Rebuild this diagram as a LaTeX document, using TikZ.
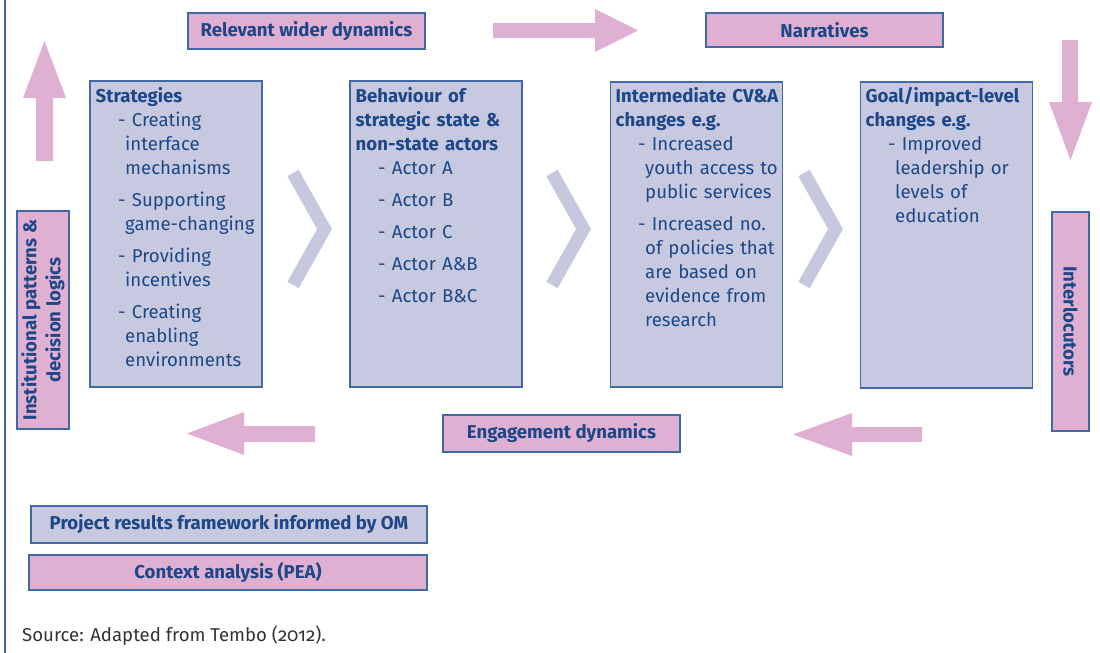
\documentclass[tikz,border=0pt]{standalone}
\usepackage{fontspec}
\setmainfont{Fira Sans}
\newfontfamily\srcfont[Numbers=OldStyle]{Fira Sans}
\definecolor{pinkc}{HTML}{DFB0D2}
\definecolor{bluec}{HTML}{C6C9DF}
\definecolor{chevc}{HTML}{C6C8DE}
\definecolor{bordc}{HTML}{4169A5}
\definecolor{txtc}{HTML}{1E4787}
\newcommand\fs{\fontsize{18.6}{24}\selectfont}
\newcommand\itm[1]{\par\hangindent=29.5pt\hangafter=1\noindent\hspace*{22.5pt}-\space#1}
\newcommand\itmg[1]{\par\vspace{8pt}\itm{#1}}
\begin{document}
\begin{tikzpicture}[x=1pt,y=-1pt,
  pinkbox/.style={draw=bordc, fill=pinkc, line width=1.3pt, inner sep=0pt, text=txtc, font=\fs\bfseries},
  bluebox/.style={draw=bordc, fill=bluec, line width=1.3pt, inner sep=0pt, text=txtc, font=\fs\bfseries},
  bigbox/.style={bluebox, minimum width=172pt, minimum height=306pt},
  txt/.style={text=txtc, font=\fs, inner sep=0pt, anchor=north west, text width=170pt,
     execute at begin node={\parindent=0pt\parskip=0pt}},
  pinkarrow/.style={fill=pinkc},
  chev/.style={draw=chevc, line width=13pt, line join=miter}]
\useasboundingbox (0,0) rectangle (1100,653);
\draw[bordc, line width=1.5pt] (5,0) -- (5,653);

% top labels
\node[pinkbox, minimum width=237pt, minimum height=36pt] (rwd) at (306.5,31) {Relevant wider dynamics};
\node[pinkbox, minimum width=237pt, minimum height=34pt] (narr) at (824.5,30) {Narratives};

% big boxes
\node[bigbox] (strat) at (176,234) {};
\node[bigbox] (behav) at (436,234) {};
\node[bigbox, minimum height=305pt] (inter) at (696.5,234.5) {};
\node[bigbox, minimum height=306pt] (goal) at (946.5,235) {};

\node[txt] (stratT) at (95.5,85.2) {\strut\textbf{Strategies}%
\itm{Creating\newline interface\newline mechanisms}%
\itmg{Supporting\newline game-changing}%
\itmg{Providing\newline incentives}%
\itmg{Creating\newline enabling\newline environments}\par};

\node[txt] (behavT) at (355.5,85.2) {\strut\textbf{Behaviour of\newline strategic state \&\newline non-state actors}%
\itm{Actor A}\itmg{Actor B}\itmg{Actor C}\itmg{Actor A\&B}\itmg{Actor B\&C}\par};

\node[txt] (interT) at (615.5,85.2) {\strut\textbf{Intermediate CV\&A\newline changes e.g.}%
\itm{Increased\newline youth access to\newline public services}%
\itmg{Increased no.\newline of policies that\newline are based on\newline evidence from\newline research}\par};

\node[txt] (goalT) at (865.5,85.2) {\strut\textbf{Goal/impact-level\newline changes e.g.}%
\itm{Improved\newline leadership or\newline levels of\newline education}\par};

% side labels
\node[pinkbox, minimum width=52pt, minimum height=218pt] (inst) at (43,320) {};
\node[rotate=90, align=center, text=txtc, font=\fs\bfseries, inner sep=0pt] (instT) at (inst.center) {Institutional patterns \&\\decision logics};
\node[pinkbox, minimum width=37pt, minimum height=219pt] (intl) at (1070.5,321.5) {};
\node[rotate=-90, text=txtc, font=\fs\bfseries, inner sep=0pt] (intlT) at (intl.center) {Interlocutors};

% bottom labels
\node[pinkbox, minimum width=237pt, minimum height=37pt] (eng) at (561.5,433.5) {Engagement dynamics};
\node[bluebox, minimum width=396pt, minimum height=37pt] (proj) at (229,524.5) {Project results framework informed by OM};
\node[pinkbox, minimum width=398pt, minimum height=35pt] (ctx) at (228,572.5) {Context analysis (PEA)};
\node[anchor=base west, inner sep=0pt, text=black!80, font=\fs\srcfont] (src) at (22,641) {Source: Adapted from Tembo (2012).};

% block arrows
\fill[pinkarrow] (36,161) -- (36,98) -- (23,98) -- (44.5,41) -- (66,98) -- (53,98) -- (53,161) -- cycle;
\fill[pinkarrow] (1062,40) -- (1062,102) -- (1049,102) -- (1070.5,160) -- (1092,102) -- (1078,102) -- (1078,40) -- cycle;
\fill[pinkarrow] (493,23) -- (595,23) -- (595,9) -- (638,30.5) -- (595,52) -- (595,38) -- (493,38) -- cycle;
\fill[pinkarrow] (315,426) -- (244,426) -- (244,412) -- (187,433.5) -- (244,455) -- (244,442) -- (315,442) -- cycle;
\fill[pinkarrow] (922,427) -- (852,427) -- (852,413) -- (793,434.5) -- (852,456) -- (852,442) -- (922,442) -- cycle;

% chevrons
\foreach \L in {287,546,798}{
  \draw[chev] (\L+6,173) -- (\L+37.5,229) -- (\L+6,285);
}
\end{tikzpicture}
\end{document}
